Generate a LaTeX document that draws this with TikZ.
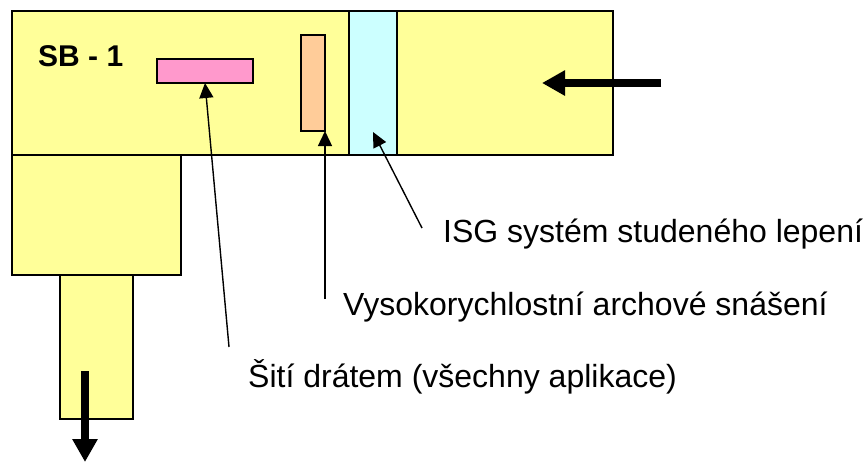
\documentclass[tikz,border=0pt]{standalone}
\usepackage{fontspec}
\setmainfont{Liberation Sans}
\usetikzlibrary{arrows.meta,calc}
\definecolor{yel}{HTML}{FFFF99}
\definecolor{cyn}{HTML}{CCFFFF}
\definecolor{pnk}{HTML}{FF99CC}
\definecolor{org}{HTML}{FFCC99}
\begin{document}
\begin{tikzpicture}[x=1pt,y=-1pt,
  box/.style={draw=black, line width=1.3pt, inner sep=0pt, outer sep=0pt, anchor=north west},
  lbl/.style={anchor=base west, inner sep=0pt, font=\fontsize{32}{38}\selectfont},
  pointer/.style={line width=1.4pt, -{Triangle[length=15pt,width=14pt]}},
  flow/.style={line width=8pt, -{Triangle[length=23pt,width=24pt]}}]
\useasboundingbox (0,0) rectangle (866,461);
\node[box, fill=yel, minimum width=601pt, minimum height=144pt] (main) at (12,11) {};
\node[box, fill=yel, minimum width=169pt, minimum height=120pt] (lower) at (12,155) {};
\node[box, fill=yel, minimum width=73pt, minimum height=144pt] (narrow) at (60,275) {};
\node[box, fill=cyn, minimum width=48pt, minimum height=144pt] (cyan) at (349,11) {};
\node[box, fill=pnk, minimum width=96pt, minimum height=24pt] (pink) at (157,59) {};
\node[box, fill=org, minimum width=24pt, minimum height=96pt] (orange) at (301,35) {};
\node[anchor=base west, inner sep=0pt, font=\fontsize{30}{36}\selectfont\bfseries] (sb) at (38,66) {SB - 1};
\node[lbl] (isg) at (443,242) {ISG systém studeného lepení};
\node[lbl] (vys) at (343,315) {Vysokorychlostní archové snášení};
\node[lbl] (siti) at (248,387) {Šití drátem (všechny aplikace)};
\coordinate (isgtail) at (422,228);
\coordinate (vystail) at (325,299);
\coordinate (sititail) at (229,347);
\coordinate (instart) at (661,83);
\coordinate (inend) at (542,83);
\coordinate (outstart) at (85,371);
\coordinate (outend) at (85,462);
\draw[pointer] (isgtail) -- ([yshift=23pt]cyan.south);
\draw[pointer] (vystail) -- (orange.south east);
\draw[pointer] (sititail) -- (pink.south);
\draw[flow] (instart) -- (inend);
\draw[flow] (outstart) -- (outend);
\end{tikzpicture}
\end{document}
